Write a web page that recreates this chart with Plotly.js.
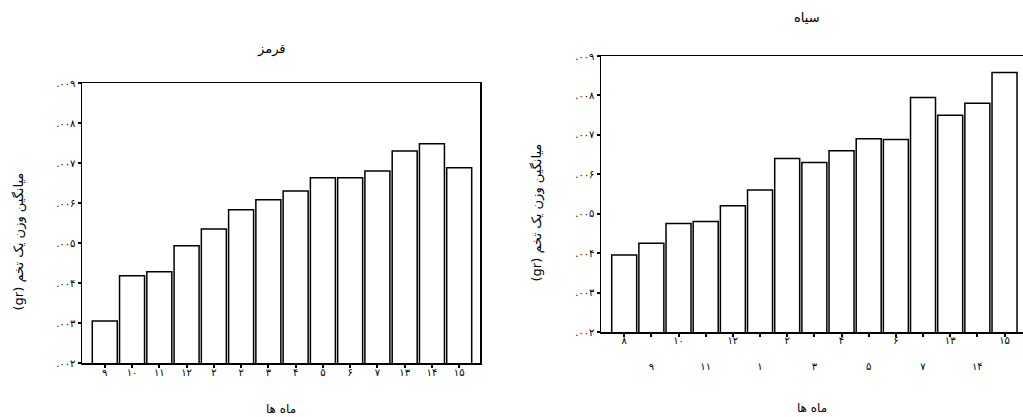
<!DOCTYPE html>
<html><head><meta charset="utf-8">
<script src="https://cdn.plot.ly/plotly-3.0.1.min.js"></script>
<style>html,body{margin:0;padding:0;background:#fff}#chart{width:1023px;height:417px}</style>
</head><body><div id="chart"></div>
<script>
// ---- data ----
const redMonths = ['۹','۱۰','۱۱','۱۲','۲','۲','۳','۴','۵','۶','۷','۱۳','۱۴','۱۵'];
const redValues = [0.00305, 0.00418, 0.00428, 0.00493, 0.00535, 0.00583, 0.00608, 0.0063, 0.00663, 0.00663, 0.0068, 0.0073, 0.00748, 0.00688];
const blackMonths = ['۸','۹','۱۰','۱۱','۱۲','۱','۲','۳','۴','۵','۶','۷','۱۳','۱۴','۱۵'];
const blackValues = [0.00395, 0.00425, 0.00475, 0.0048, 0.0052, 0.0056, 0.0064, 0.0063, 0.0066, 0.0069, 0.00688, 0.00795, 0.0075, 0.0078, 0.00858];
const yTickVals = [0.002, 0.003, 0.004, 0.005, 0.006, 0.007, 0.008, 0.009];
const yTickText = ['.۰۰۲', '.۰۰۳', '.۰۰۴', '.۰۰۵', '.۰۰۶', '.۰۰۷', '.۰۰۸', '.۰۰۹'];
const redTitle = 'قرمز';
const blackTitle = 'سیاه';
const xTitle = 'ماه ها';
const yTitle = 'میانگین وزن یک تخم (gr)';

// ---- chart ----
const W = 1023, H = 417;
const FONT = 'DejaVu Sans, Noto Sans, sans-serif';
const RLE = '\u202B', PDF = '\u202C';
const PAD = '\u00a0'.repeat(9);
const redX = redMonths.map((_, i) => i);
const blackX = blackMonths.map((_, i) => i);
const blackTickText = blackMonths.map((m, i) => i % 2 === 0 ? m : '\u00a0<br>\u00a0<br>' + m);

const barStyle = {color: '#ffffff', line: {color: '#000000', width: 1.5}};
const traces = [
  {type: 'bar', x: redX, y: redValues, xaxis: 'x', yaxis: 'y', width: 0.917, marker: barStyle, hoverinfo: 'y', showlegend: false},
  {type: 'bar', x: blackX, y: blackValues, xaxis: 'x2', yaxis: 'y2', width: 0.92, marker: barStyle, hoverinfo: 'y', showlegend: false}
];

const px = v => v / W, py = v => 1 - v / H;
const common = {
  showgrid: false, zeroline: false, showline: true, linecolor: '#000', linewidth: 1.5,
  ticks: 'outside', ticklen: 3, tickwidth: 2, tickcolor: '#000',
  tickfont: {family: FONT, size: 10, color: '#000'}
};
const titleFont = {family: FONT, size: 12, color: '#000'};
const yTitleText = RLE + PAD + yTitle + PDF;

const layout = {
  width: W, height: H,
  margin: {l: 0, r: 0, t: 0, b: 0},
  paper_bgcolor: '#fff', plot_bgcolor: '#fff',
  showlegend: false,
  font: {family: FONT, color: '#000'},
  xaxis: Object.assign({}, common, {
    domain: [px(82), px(480)], anchor: 'y', range: [-0.836, 13.763],
    tickmode: 'array', tickvals: redX, ticktext: redMonths, mirror: true, automargin: false,
    ticklabelstandoff: -4,
    title: {text: xTitle, font: titleFont, standoff: 28}
  }),
  yaxis: Object.assign({}, common, {
    domain: [py(363), py(83)], anchor: 'x', range: [0.002, 0.009],
    tickmode: 'array', tickvals: yTickVals, ticktext: yTickText, mirror: true, automargin: false,
    title: {text: yTitleText, font: {family: FONT, size: 13, color: '#000'}, standoff: 29}
  }),
  xaxis2: Object.assign({}, common, {
    domain: [px(601), 1], anchor: 'y2', range: [-0.854, 14.68],
    tickmode: 'array', tickvals: blackX, ticktext: blackTickText, mirror: true, automargin: false,
    ticklabelstandoff: -5,
    title: {text: xTitle, font: titleFont, standoff: 33}
  }),
  yaxis2: Object.assign({}, common, {
    domain: [py(332), py(56)], anchor: 'x2', range: [0.002, 0.009],
    tickmode: 'array', tickvals: yTickVals, ticktext: yTickText, mirror: false, automargin: false,
    title: {text: yTitleText, font: {family: FONT, size: 13, color: '#000'}, standoff: 30}
  }),
  annotations: [
    {text: redTitle, xref: 'paper', yref: 'paper', x: px(271), y: py(49), xanchor: 'center', yanchor: 'middle', showarrow: false, font: {family: FONT, size: 13, color: '#000'}},
    {text: blackTitle, xref: 'paper', yref: 'paper', x: px(807), y: py(18), xanchor: 'center', yanchor: 'middle', showarrow: false, font: {family: FONT, size: 13, color: '#000'}}
  ]
};

Plotly.newPlot('chart', traces, layout, {staticPlot: true, displayModeBar: false});
</script>
</body></html>
